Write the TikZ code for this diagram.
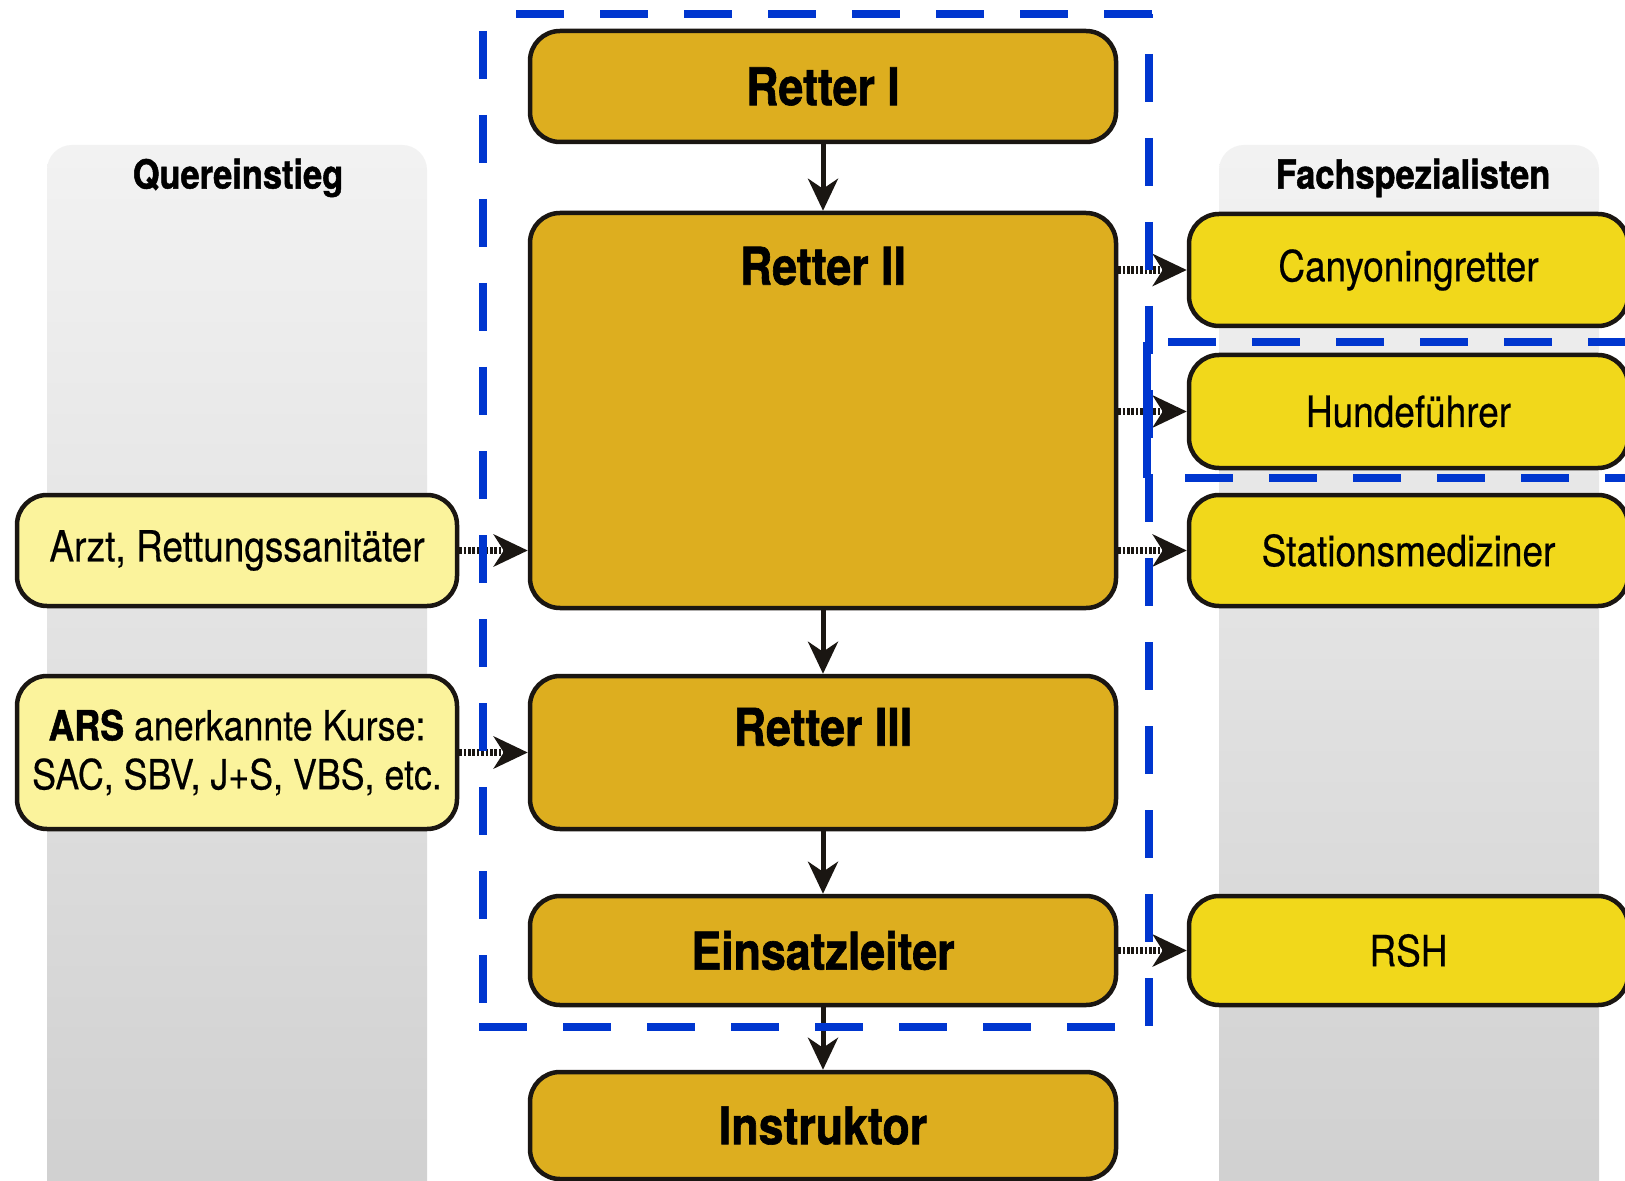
\documentclass[tikz,border=0pt]{standalone}
\usepackage{fontspec}
\setmainfont{TeX Gyre Heros}
\newfontfamily\condR[FakeStretch=0.86,FakeBold=0.4]{TeX Gyre Heros}
\newfontfamily\condB[FakeStretch=0.86,FakeBold=1.2]{TeX Gyre Heros}
\usetikzlibrary{arrows.meta}
\definecolor{gold}{HTML}{DDAE1F}
\definecolor{yel}{HTML}{F1D81B}
\definecolor{pale}{HTML}{FBF39C}
\definecolor{dblue}{HTML}{0036CF}
\definecolor{boxline}{HTML}{1A1612}
\begin{document}
\begin{tikzpicture}[x=0.5pt,y=-0.5pt,
  box/.style={draw=boxline, line width=2.25pt, rounded corners=15pt, inner sep=0pt, align=center},
  cbox/.style={box, fill=gold, minimum width=293pt, font=\condB\bfseries\fontsize{26}{30}\selectfont},
  rbox/.style={box, fill=yel, minimum width=219.5pt, font=\condR\fontsize{21.5}{25}\selectfont},
  lbox/.style={box, fill=pale, minimum width=220pt, font=\condR\fontsize{21.5}{24.5}\selectfont},
  ctext/.style={inner sep=0pt, font=\condB\bfseries\fontsize{26}{30}\selectfont},
  head/.style={inner sep=0pt, font=\condB\bfseries\fontsize{20}{24}\selectfont},
  flow/.style={draw=boxline, line width=2.5pt, -{Stealth[length=16pt,width=15pt,inset=5pt]}},
  dotflow/.style={draw=boxline, line width=3.6pt, dash pattern=on 1.3pt off 0.9pt, -{Stealth[length=17pt,width=16pt,inset=5pt]}},
  bluedash/.style={draw=dblue, line width=4.3pt, dash pattern=on 24pt off 18pt},
  column/.style={top color=black!5, bottom color=black!19, rounded corners=12.5pt}
]
\useasboundingbox (0,0) rectangle (1625,1181);
\fill[white] (0,0) rectangle (1625,1181);

% gray columns
\shade[column] (47,145) rectangle (427,1240);
\shade[column] (1219,145) rectangle (1599,1240);
\node[head] (hq) at (238,178) {Quereinstieg};
\node[head] (hf) at (1413,178) {Fachspezialisten};

% centre boxes
\node[cbox, minimum height=55.5pt] (r1) at (823,86.5) {Retter I};
\node[cbox, minimum height=197.5pt] (r2) at (823,410.5) {};
\node[ctext] (r2t) at (823,266) {Retter II};
\node[cbox, minimum height=76.5pt] (r3) at (823,752.5) {};
\node[ctext] (r3t) at (823,727) {Retter III};
\node[cbox, minimum height=54.5pt] (el) at (823,950.5) {Einsatzleiter};
\node[cbox, minimum height=53.5pt] (in) at (823,1125.5) {Instruktor};

% right boxes
\node[rbox, minimum height=56pt] (cy) at (1408.5,270) {Canyoningretter};
\node[rbox, minimum height=56.5pt] (hu) at (1408.5,411.5) {Hundeführer};
\node[rbox, minimum height=55.5pt] (st) at (1408.5,550.5) {Stationsmediziner};
\node[rbox, minimum height=54.5pt] (rsh) at (1408.5,950.5) {RSH};

% left boxes
\node[lbox, minimum height=55.5pt] (az) at (237,550.5) {Arzt, Rettungssanitäter};
\node[lbox, minimum height=76.5pt, font=\condR\fontsize{20.8}{24.5}\selectfont] (ars) at (237,752.5) {{\condB\bfseries ARS} anerkannte Kurse:\\SAC, SBV, J+S, VBS, etc.};

% vertical arrows
\draw[flow] (r1.south) -- (r2.north);
\draw[flow] (r2.south) -- (r3.north);
\draw[flow] (r3.south) -- (el.north);
\draw[flow] (el.south) -- (in.north);

% dotted arrows
\draw[dotflow] (cy.west -| r2.east) -- (cy.west);
\draw[dotflow] (hu.west -| r2.east) -- (hu.west);
\draw[dotflow] (st.west -| r2.east) -- (st.west);
\draw[dotflow] (rsh.west -| el.east) -- (rsh.west);
\draw[dotflow] (az.east) -- (az.east -| r2.west);
\draw[dotflow] (ars.east) -- (ars.east -| r3.west);

% blue dashed frames
\coordinate (bt1) at (516,14);
\coordinate (bt2) at (1153,14);
\coordinate (bl1) at (483,15);
\coordinate (bl2) at (483,1030);
\coordinate (br1) at (1149,14);
\coordinate (br2) at (1149,1030);
\coordinate (bb1) at (479,1027);
\coordinate (bb2) at (1119,1027);
\draw[bluedash] (bt1) -- (bt2);
\draw[bluedash, dash phase=-8pt] (bl1) -- (bl2);
\draw[bluedash, dash phase=-20pt] (br1) -- (br2);
\draw[bluedash] (bb1) -- (bb2);
\coordinate (ht1) at (1168,342);
\coordinate (ht2) at (1630,342);
\coordinate (hb1) at (1185,478);
\coordinate (hb2) at (1630,478);
\coordinate (hv1) at (1147,342);
\coordinate (hv2) at (1147,478);
\draw[bluedash] (ht1) -- (ht2);
\draw[bluedash] (hb1) -- (hb2);
\draw[draw=dblue, line width=4.3pt] (hv1) -- (hv2);
\end{tikzpicture}
\end{document}
